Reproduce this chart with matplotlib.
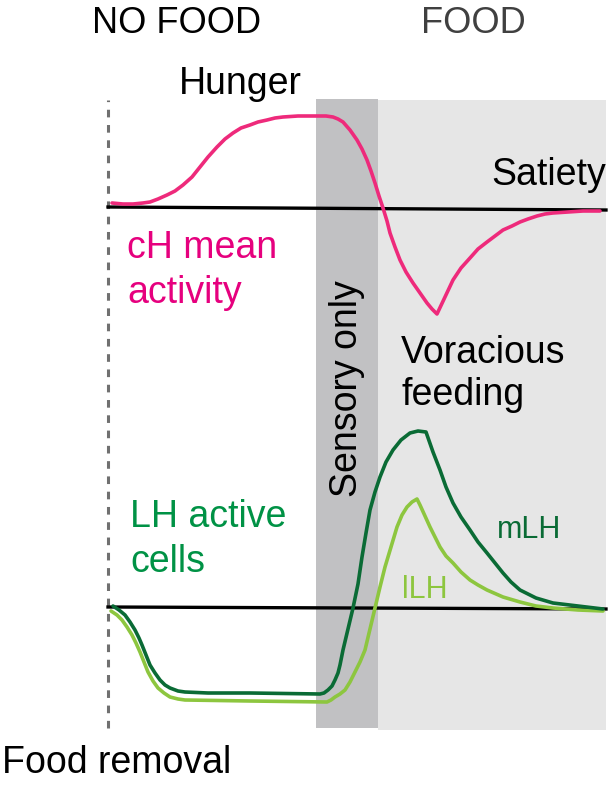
import matplotlib
matplotlib.use("Agg")
import matplotlib.pyplot as plt

plt.rcParams['font.family'] = ['Liberation Sans', 'DejaVu Sans']

# time since food removal (arbitrary units) and activity relative to baseline
ch_t = [4, 15, 25, 35, 42, 50, 59, 67, 75, 84, 92, 100, 109, 117, 125, 133, 142, 150,
        159, 167, 175, 190, 205, 218, 225, 230, 235, 242, 249, 254, 259, 263, 267, 271,
        275, 279, 282, 287, 292, 298, 305, 312, 319, 324, 329, 337, 345, 353, 362, 370,
        379, 387, 395, 404, 412, 420, 429, 437, 445, 460, 475, 492]
ch_v = [5, 4, 4, 5, 6, 9, 13, 17, 23, 31, 41, 51, 61, 69, 75, 80, 83, 86,
        88, 90, 91, 92, 92, 92, 91, 89, 86, 78, 68, 59, 48, 37, 25, 12,
        0, -13, -25, -39, -52, -64, -75, -85, -95, -101, -106, -89, -72, -60, -50, -41,
        -34, -28, -22, -18, -14, -11, -8, -6, -5, -4, -3, -3]

mlh_t = [5, 11, 17, 22, 27, 31, 34, 38, 42, 47, 52, 57, 62, 70, 77, 100, 142, 212,
         216, 220, 224, 227, 230, 232, 235, 240, 245, 250, 254, 258, 262, 267, 272, 278,
         285, 293, 302, 310, 318, 325, 332, 338, 345, 353, 362, 370, 379, 387, 395, 403,
         412, 428, 445, 470, 495]
mlh_v = [1, -3, -8, -15, -23, -31, -38, -48, -58, -66, -73, -78, -81, -84, -85, -86, -86, -87,
         -86, -83, -79, -73, -66, -58, -43, -22, -1, 23, 50, 74, 97, 115, 130, 145,
         157, 167, 174, 176, 175, 155, 137, 120, 104, 90, 77, 65, 54, 44, 34, 25,
         17, 9, 4, 1, -2]

llh_t = [3, 9, 14, 19, 24, 28, 32, 36, 40, 45, 50, 56, 62, 70, 77, 142, 219, 223,
         227, 232, 237, 242, 247, 252, 257, 262, 267, 272, 277, 283, 289, 294, 299, 304,
         309, 312, 317, 322, 327, 332, 338, 345, 353, 362, 370, 379, 395, 412, 428, 445,
         470, 495]
llh_v = [-4, -8, -13, -20, -28, -36, -45, -55, -65, -74, -81, -86, -90, -92, -93, -94, -95, -93,
         -90, -87, -83, -75, -65, -55, -43, -22, -1, 20, 40, 60, 80, 92, 100, 105,
         108, 102, 91, 80, 70, 60, 51, 44, 35, 27, 22, 17, 10, 5, 1, -1,
         -3, -4]

t_end = 498
sensory = (208, 270)   # sensory-only window
food = (270, 498)      # food available

ch_base = 579   # vertical placement of each trace in the schematic
lh_base = 180

fig = plt.figure(figsize=(6.08, 7.87), dpi=100)
ax = fig.add_axes([0, 0, 1, 1])
ax.set_xlim(-108, 500)
ax.set_ylim(0, 787)
ax.axis('off')

# shaded periods
ax.fill_between([food[0], food[1]], 57, 687, color='#e6e6e6', lw=0, zorder=0)
ax.fill_between([sensory[0], sensory[1]], 59, 688, color='#c1c1c3', lw=0, zorder=0)

# food removal marker
ax.plot([0, 0], [59, 687], color='#707070', lw=2.2, ls=(0, (2.5, 2.5)), zorder=1)

# baselines
ax.plot([0, t_end], [ch_base + 1, ch_base - 2], color='black', lw=2.4, zorder=2)
ax.plot([0, t_end], [lh_base, lh_base - 2], color='black', lw=2.4, zorder=2)

# traces
style = dict(lw=2.6, solid_joinstyle='round', solid_capstyle='round')
ax.plot(ch_t, [v + ch_base for v in ch_v], color='#ee2a7b', zorder=3, **style)
ax.plot(llh_t, [v + lh_base for v in llh_v], color='#8dc63f', zorder=3, **style)
ax.plot(mlh_t, [v + lh_base for v in mlh_v], color='#0a6b35', zorder=4, **style)

fs = 27
ax.text(69, 754, 'NO FOOD', fontsize=26, ha='center', va='baseline')
ax.text(365, 754, 'FOOD', fontsize=26, ha='center', va='baseline', color='#404040')
ax.text(132, 693, 'Hunger', fontsize=fs, ha='center', va='baseline')
ax.text(498, 602, 'Satiety', fontsize=fs, ha='right', va='baseline')
ax.text(19, 529, 'cH mean', fontsize=fs, ha='left', va='baseline', color='#e6007e')
ax.text(19, 484, 'activity', fontsize=fs, ha='left', va='baseline', color='#e6007e')
ax.text(293, 424, 'Voracious', fontsize=fs, ha='left', va='baseline')
ax.text(293, 382, 'feeding', fontsize=fs, ha='left', va='baseline')
ax.text(239, 398, 'Sensory only', fontsize=fs, rotation=90, ha='center', va='center')
ax.text(22, 260, 'LH active', fontsize=fs, ha='left', va='baseline', color='#009245')
ax.text(22, 215, 'cells', fontsize=fs, ha='left', va='baseline', color='#009245')
ax.text(389, 249, 'mLH', fontsize=22, ha='left', va='baseline', color='#0a6b35')
ax.text(294, 189, 'lLH', fontsize=22, ha='left', va='baseline', color='#8dc63f')
ax.text(-106, 14, 'Food removal', fontsize=fs, ha='left', va='baseline')

fig.savefig('out.png', dpi=100)
